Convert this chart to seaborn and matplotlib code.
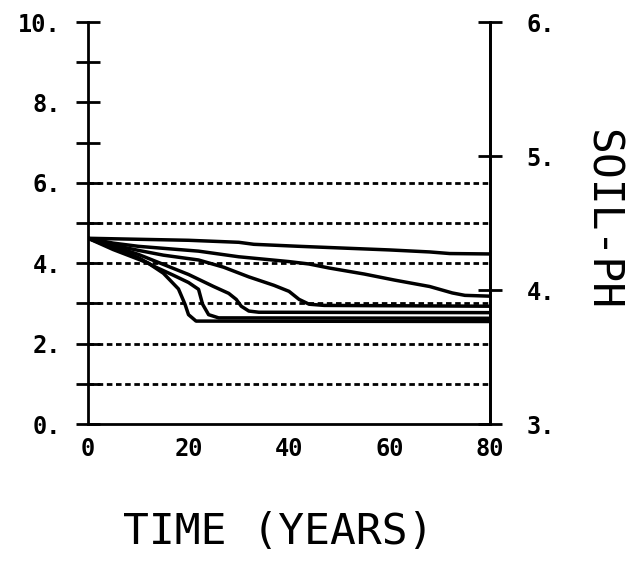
import matplotlib
matplotlib.use("Agg")
import matplotlib.pyplot as plt
import seaborn as sns
import pandas as pd

# ---- data (left-axis units) ----
years_1 = [0, 20, 30, 33, 42, 50, 60, 68, 72, 80]
vals_1 = [4.62, 4.57, 4.52, 4.47, 4.42, 4.38, 4.33, 4.28, 4.24, 4.23]

years_2 = [0, 5, 10, 15, 22, 30, 40, 44, 48, 55, 61, 68, 72.5, 75, 80]
vals_2 = [4.62, 4.5, 4.42, 4.37, 4.3, 4.16, 4.04, 3.98, 3.88, 3.73, 3.58, 3.42, 3.26, 3.2, 3.18]

years_3 = [0, 5, 10, 15, 22, 27, 32, 37, 40, 42, 44, 47, 80]
vals_3 = [4.62, 4.45, 4.32, 4.2, 4.08, 3.9, 3.66, 3.45, 3.3, 3.1, 2.98, 2.95, 2.93]

years_4 = [0, 5, 10, 15, 20, 22, 25, 28, 29.5, 30.5, 32, 34, 80]
vals_4 = [4.62, 4.42, 4.22, 3.97, 3.72, 3.6, 3.42, 3.25, 3.1, 2.93, 2.81, 2.78, 2.77]

years_5 = [0, 5, 10, 13, 17, 20, 22, 22.8, 24, 26, 80]
vals_5 = [4.62, 4.38, 4.14, 3.93, 3.7, 3.52, 3.35, 2.98, 2.72, 2.64, 2.63]

years_6 = [0, 5, 10, 12, 15, 18, 19.3, 20, 21.5, 80]
vals_6 = [4.62, 4.34, 4.1, 4.0, 3.75, 3.36, 2.98, 2.72, 2.56, 2.55]

grid_levels = [1, 2, 3, 4, 5, 6]
left_ticks = list(range(0, 11))
left_labels = ["0.", "", "2.", "", "4.", "", "6.", "", "8.", "", "10."]
x_ticks = list(range(0, 81, 10))
x_labels = ["0", "", "20", "", "40", "", "60", "", "80"]
right_ticks = [3, 4, 5, 6]
right_labels = ["3.", "4.", "5.", "6."]

curves = [(years_1, vals_1), (years_2, vals_2), (years_3, vals_3),
          (years_4, vals_4), (years_5, vals_5), (years_6, vals_6)]
rows = []
for i, (ys, vs) in enumerate(curves):
    for x, v in zip(ys, vs):
        rows.append({"year": x, "value": v, "curve": f"c{i+1}"})
df = pd.DataFrame(rows)

sns.set_theme(style="white")
plt.rcParams["font.family"] = ["DejaVu Sans Mono", "DejaVu Sans"]

fig = plt.figure(figsize=(6.42, 5.62), dpi=100)
ax = fig.add_axes([88 / 642, 138 / 562, 402 / 642, 402 / 562])

for g in grid_levels:
    ax.axhline(g, color="black", lw=2.0, ls=(0, (2.0, 1.3)), zorder=1)

sns.lineplot(data=df, x="year", y="value", hue="curve",
             palette=["black"] * 6, linewidth=2.5, legend=False,
             estimator=None, sort=False, ax=ax, zorder=3)

ax.set_xlim(0, 80)
ax.set_ylim(0, 10)
ax.set_xlabel("")
ax.set_ylabel("")

ax.spines["top"].set_visible(False)
for s in ["left", "right", "bottom"]:
    ax.spines[s].set_color("black")
    ax.spines[s].set_linewidth(2.0)

ax.set_yticks(left_ticks)
ax.set_yticklabels(left_labels)
ax.set_xticks(x_ticks)
ax.set_xticklabels(x_labels)
ax.tick_params(axis="both", direction="inout", length=17, width=2,
               color="black", labelcolor="black", labelsize=17)
ax.tick_params(axis="y", pad=11)
ax.tick_params(axis="x", pad=1)
for lab in ax.get_xticklabels() + ax.get_yticklabels():
    lab.set_fontweight("bold")

ax2 = ax.twinx()
ax2.set_ylim(3, 6)
ax2.set_yticks(right_ticks)
ax2.set_yticklabels(right_labels)
for s in ["top", "left", "bottom"]:
    ax2.spines[s].set_visible(False)
ax2.spines["right"].set_linewidth(2.0)
ax2.spines["right"].set_color("black")
ax2.tick_params(axis="y", direction="inout", length=17, width=2,
                color="black", labelcolor="black", labelsize=17, pad=18)
for lab in ax2.get_yticklabels():
    lab.set_fontweight("bold")
ax2.grid(False)
ax.grid(False)

fig.text(602 / 642, 1 - 220 / 562, "SOIL-PH", rotation=270, ha="center",
         va="center", fontsize=31, color="black")
fig.text(278 / 642, 1 - 532 / 562, "TIME (YEARS)", ha="center",
         va="center", fontsize=31, color="black")

fig.savefig("out.png", dpi=100, facecolor="white")
